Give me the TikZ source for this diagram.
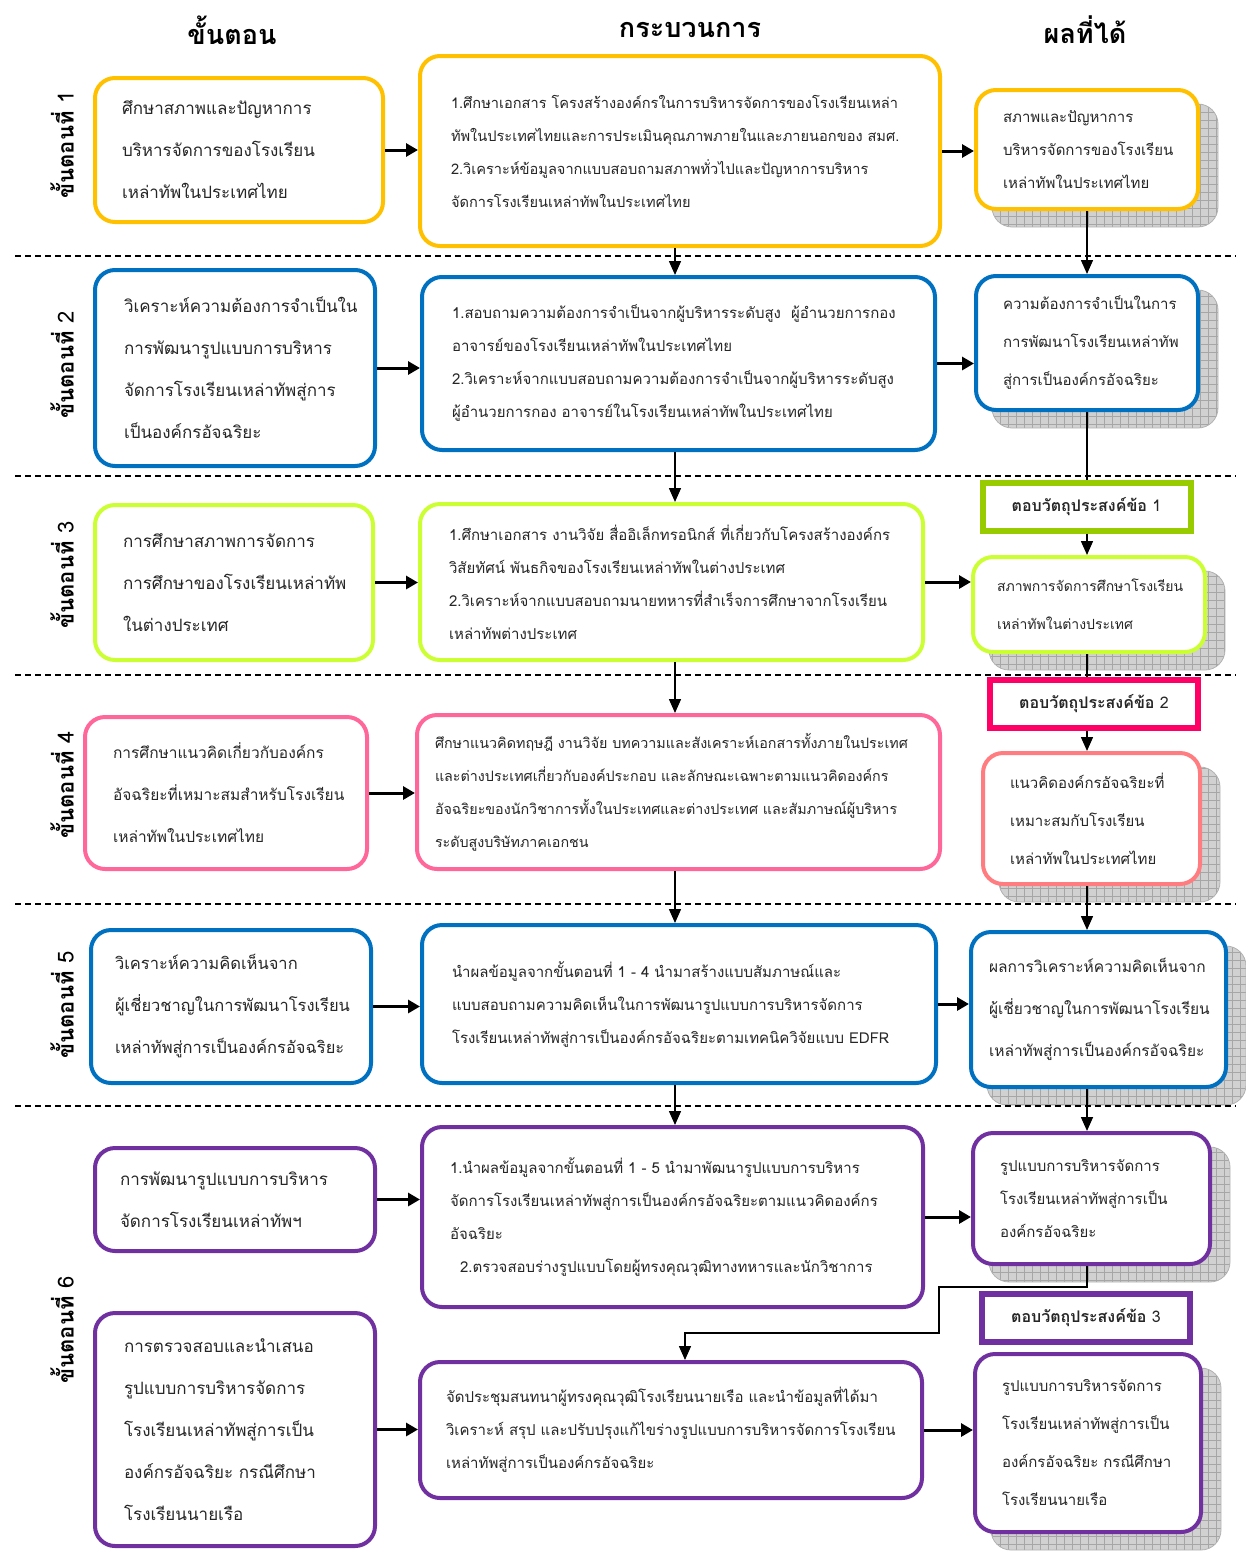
\documentclass[tikz,border=0pt]{standalone}
\usepackage{fontspec}
\setmainfont{Liberation Sans}
\newfontfamily\thai[Script=Thai]{Loma}
\usetikzlibrary{arrows.meta,backgrounds}

\definecolor{cOrange}{HTML}{FFC000}
\definecolor{cBlue}{HTML}{0070C0}
\definecolor{cLime}{HTML}{CCFF33}
\definecolor{cGreen}{HTML}{99CC00}
\definecolor{cPink}{HTML}{FF6699}
\definecolor{cMagenta}{HTML}{FF0066}
\definecolor{cSalmon}{HTML}{FF7C80}
\definecolor{cPurple}{HTML}{7030A0}

\tikzset{
  box/.style={draw, rounded corners=20pt, line width=4pt, fill=white, inner sep=0pt,
    align=left, text=black!85},
  ltext/.style={font=\thai\fontsize{#1}{42}\selectfont},
  ltext/.default=17,
  mtext/.style={font=\thai\fontsize{#1}{33}\selectfont},
  mtext/.default=15,
  rtext/.style 2 args={font=\thai\fontsize{#1}{#2}\selectfont},
  objbox/.style={draw, line width=6pt, fill=white, inner sep=0pt, text=black!85,
    minimum width=208pt, minimum height=48pt, font=\thai\bfseries\fontsize{16}{20}\selectfont},
  hdr/.style={font=\thai\bfseries\fontsize{27}{30}\selectfont},
  rowlab/.style={rotate=90, font=\thai\bfseries\fontsize{22}{24}\selectfont},
  sep/.style={line width=2pt, dash pattern=on 6pt off 4pt},
  harrow/.style={line width=3pt, -{Triangle[length=12pt,width=13pt]}},
  varrow/.style={line width=1.5pt, -{Triangle[length=14pt,width=12pt]}},
  vline/.style={line width=1.5pt},
  shadowbox/.style={fill=gray!36, draw=gray!60, line width=0.8pt, rounded corners=20pt,
    path picture={\draw[gray!70, line width=0.6pt, step=8pt]
      (path picture bounding box.south west) grid (path picture bounding box.north east);}}
}

\begin{document}
\begin{tikzpicture}[x=1pt, y=-1pt]
\useasboundingbox (0,0) rectangle (1246,1567);

% column headings
\node[hdr] (H1) at (232,30) {ขั้นตอน};
\node[hdr] (H2) at (690,30) {กระบวนการ};
\node[hdr] (H3) at (1085,30) {ผลที่ได้};

% row separators
\foreach \yy in {256,476,675,904,1106}
  \draw[sep] (15,\yy) -- (1236,\yy);

% row labels
\node[rowlab] (S1) at (62,145) {ขั้นตอนที่ {\mdseries 1}};
\node[rowlab] (S2) at (62,365) {ขั้นตอนที่ {\mdseries 2}};
\node[rowlab] (S3) at (62,575) {ขั้นตอนที่ {\mdseries 3}};
\node[rowlab] (S4) at (62,785) {ขั้นตอนที่ {\mdseries 4}};
\node[rowlab] (S5) at (62,1005) {ขั้นตอนที่ {\mdseries 5}};
\node[rowlab] (S6) at (62,1330) {ขั้นตอนที่ {\mdseries 6}};

% ---- step 1
\node[box, ltext, draw=cOrange, minimum width=288pt, minimum height=144pt, text width=234pt] (L1) at (239,150)
  {ศึกษาสภาพและปัญหาการ\\บริหารจัดการของโรงเรียน\\เหล่าทัพในประเทศไทย};
\node[box, mtext=14.6, draw=cOrange, minimum width=520pt, minimum height=190pt, text width=458pt] (M1) at (680,151)
  {1.ศึกษาเอกสาร โครงสร้างองค์กรในการบริหารจัดการของโรงเรียนเหล่า\\ทัพในประเทศไทยและการประเมินคุณภาพภายในและภายนอกของ~สมศ.\\2.วิเคราะห์ข้อมูลจากแบบสอบถามสภาพทั่วไปและปัญหาการบริหาร\\จัดการโรงเรียนเหล่าทัพในประเทศไทย};
\node[box, rtext={15}{33}, draw=cOrange, minimum width=222pt, minimum height=119pt, text width=168pt] (R1) at (1087,149.5)
  {สภาพและปัญหาการ\\บริหารจัดการของโรงเรียน\\เหล่าทัพในประเทศไทย};

% ---- step 2
\node[box, ltext, draw=cBlue, minimum width=280pt, minimum height=196pt, text width=222pt] (L2) at (235,368)
  {วิเคราะห์ความต้องการจำเป็นใน\\การพัฒนารูปแบบการบริหาร\\จัดการโรงเรียนเหล่าทัพสู่การ\\เป็นองค์กรอัจฉริยะ};
\node[box, mtext, draw=cBlue, minimum width=513pt, minimum height=173pt, text width=453pt] (M2) at (678.5,363.5)
  {1.สอบถามความต้องการจำเป็นจากผู้บริหารระดับสูง ~ผู้อำนวยการกอง\\อาจารย์ของโรงเรียนเหล่าทัพในประเทศไทย\\2.วิเคราะห์จากแบบสอบถามความต้องการจำเป็นจากผู้บริหารระดับสูง\\ผู้อำนวยการกอง อาจารย์ในโรงเรียนเหล่าทัพในประเทศไทย};
\node[box, rtext={15}{38}, draw=cBlue, minimum width=222pt, minimum height=134pt, text width=168pt] (R2) at (1087,343)
  {ความต้องการจำเป็นในการ\\การพัฒนาโรงเรียนเหล่าทัพ\\สู่การเป็นองค์กรอัจฉริยะ};

% ---- step 3
\node[objbox, draw=cGreen] (O1) at (1086.5,506.5) {ตอบวัตถุประสงค์ข้อ {\mdseries 1}};
\node[box, ltext, draw=cLime, minimum width=278pt, minimum height=155pt, text width=222pt] (L3) at (234,582.5)
  {การศึกษาสภาพการจัดการ\\การศึกษาของโรงเรียนเหล่าทัพ\\ในต่างประเทศ};
\node[box, mtext, draw=cLime, minimum width=503pt, minimum height=156pt, text width=445pt] (M3) at (671.5,582)
  {1.ศึกษาเอกสาร งานวิจัย สื่ออิเล็กทรอนิกส์ ที่เกี่ยวกับโครงสร้างองค์กร\\วิสัยทัศน์ พันธกิจของโรงเรียนเหล่าทัพในต่างประเทศ\\2.วิเคราะห์จากแบบสอบถามนายทหารที่สำเร็จการศึกษาจากโรงเรียน\\เหล่าทัพต่างประเทศ};
\node[box, rtext={14}{38}, draw=cLime, minimum width=232pt, minimum height=95pt, text width=184pt] (R3) at (1089,604.5)
  {สภาพการจัดการศึกษาโรงเรียน\\เหล่าทัพในต่างประเทศ};

% ---- step 4
\node[objbox, draw=cMagenta] (O2) at (1094,704) {ตอบวัตถุประสงค์ข้อ {\mdseries 2}};
\node[box, ltext=15.5, draw=cPink, minimum width=282pt, minimum height=152pt, text width=226pt] (L4) at (226,793)
  {การศึกษาแนวคิดเกี่ยวกับองค์กร\\อัจฉริยะที่เหมาะสมสำหรับโรงเรียน\\เหล่าทัพในประเทศไทย};
\node[box, mtext=14.3, draw=cPink, minimum width=523pt, minimum height=154pt, text width=487pt] (M4) at (678.5,792)
  {ศึกษาแนวคิดทฤษฎี งานวิจัย บทความและสังเคราะห์เอกสารทั้งภายในประเทศ\\และต่างประเทศเกี่ยวกับองค์ประกอบ และลักษณะเฉพาะตามแนวคิดองค์กร\\อัจฉริยะของนักวิชาการทั้งในประเทศและต่างประเทศ และสัมภาษณ์ผู้บริหาร\\ระดับสูงบริษัทภาคเอกชน};
\node[box, rtext={15}{38}, draw=cSalmon, minimum width=217pt, minimum height=131pt, text width=163pt] (R4) at (1091.5,818.5)
  {แนวคิดองค์กรอัจฉริยะที่\\เหมาะสมกับโรงเรียน\\เหล่าทัพในประเทศไทย};

% ---- step 5
\node[box, ltext=16.5, draw=cBlue, minimum width=280pt, minimum height=153pt, text width=232pt] (L5) at (231,1006.5)
  {วิเคราะห์ความคิดเห็นจาก\\ผู้เชี่ยวชาญในการพัฒนาโรงเรียน\\เหล่าทัพสู่การเป็นองค์กรอัจฉริยะ};
\node[box, mtext, draw=cBlue, minimum width=514pt, minimum height=158pt, text width=454pt] (M5) at (679,1004)
  {นำผลข้อมูลจากขั้นตอนที่ 1 - 4 นำมาสร้างแบบสัมภาษณ์และ\\แบบสอบถามความคิดเห็นในการพัฒนารูปแบบการบริหารจัดการ\\โรงเรียนเหล่าทัพสู่การเป็นองค์กรอัจฉริยะตามเทคนิควิจัยแบบ EDFR};
\node[box, rtext={15.5}{42}, draw=cBlue, minimum width=255pt, minimum height=155pt, text width=219pt] (R5) at (1098.5,1009.5)
  {ผลการวิเคราะห์ความคิดเห็นจาก\\ผู้เชี่ยวชาญในการพัฒนาโรงเรียน\\เหล่าทัพสู่การเป็นองค์กรอัจฉริยะ};

% ---- step 6
\node[box, ltext, draw=cPurple, minimum width=280pt, minimum height=103pt, text width=230pt] (L6) at (235,1199.5)
  {การพัฒนารูปแบบการบริหาร\\จัดการโรงเรียนเหล่าทัพฯ};
\node[box, mtext, draw=cPurple, minimum width=501pt, minimum height=180pt, text width=445pt] (M6) at (672.5,1217)
  {1.นำผลข้อมูลจากขั้นตอนที่ 1 - 5 นำมาพัฒนารูปแบบการบริหาร\\จัดการโรงเรียนเหล่าทัพสู่การเป็นองค์กรอัจฉริยะตามแนวคิดองค์กร\\อัจฉริยะ\\\hspace*{10pt}2.ตรวจสอบร่างรูปแบบโดยผู้ทรงคุณวุฒิทางทหารและนักวิชาการ};
\node[box, rtext={15}{33}, draw=cPurple, minimum width=237pt, minimum height=131pt, text width=183pt] (R6) at (1091.5,1198.5)
  {รูปแบบการบริหารจัดการ\\โรงเรียนเหล่าทัพสู่การเป็น\\องค์กรอัจฉริยะ};

\node[objbox, draw=cPurple] (O3) at (1086,1318) {ตอบวัตถุประสงค์ข้อ {\mdseries 3}};
\node[box, ltext, draw=cPurple, minimum width=280pt, minimum height=233pt, text width=222pt] (L7) at (235,1429.5)
  {การตรวจสอบและนำเสนอ\\รูปแบบการบริหารจัดการ\\โรงเรียนเหล่าทัพสู่การเป็น\\องค์กรอัจฉริยะ กรณีศึกษา\\โรงเรียนนายเรือ};
\node[box, mtext, draw=cPurple, minimum width=502pt, minimum height=136pt, text width=450pt] (M7) at (671,1430)
  {จัดประชุมสนทนาผู้ทรงคุณวุฒิโรงเรียนนายเรือ และนำข้อมูลที่ได้มา\\วิเคราะห์ สรุป และปรับปรุงแก้ไขร่างรูปแบบการบริหารจัดการโรงเรียน\\เหล่าทัพสู่การเป็นองค์กรอัจฉริยะ};
\node[box, rtext={15}{38}, draw=cPurple, minimum width=226pt, minimum height=178pt, text width=172pt] (R7) at (1088,1443)
  {รูปแบบการบริหารจัดการ\\โรงเรียนเหล่าทัพสู่การเป็น\\องค์กรอัจฉริยะ กรณีศึกษา\\โรงเรียนนายเรือ};

% shadows behind the result boxes
\begin{scope}[on background layer]
  \foreach \n in {R1,R2,R3,R4,R5,R6,R7}
    \path[shadowbox] ([shift={(18,16)}]\n.south west) rectangle ([shift={(18,16)}]\n.north east);
\end{scope}

% column guides for vertical connectors
\coordinate (mx) at (675,0);
\coordinate (rx) at (1087,0);

% horizontal arrows
\foreach \a/\b in {L1/M1,L2/M2,L3/M3,L4/M4,L5/M5,L6/M6,L7/M7}
  \draw[harrow] (\a.east) -- (\a.east -| \b.west);
\foreach \a/\b in {M1/R1,M2/R2,M3/R3,M5/R5,M6/R6,M7/R7}
  \draw[harrow] (\a.east) -- (\a.east -| \b.west);

% process column
\foreach \a/\b in {M1/M2,M2/M3,M3/M4,M4/M5,M5/M6}
  \draw[varrow] (\a.south -| mx) -- (\b.north -| mx);

% result column
\draw[varrow] (R1.south -| rx) -- (R2.north -| rx);
\draw[vline] (R2.south -| rx) -- (O1.north -| rx);
\draw[varrow] (O1.south -| rx) -- (R3.north -| rx);
\draw[vline] (R3.south -| rx) -- (O2.north -| rx);
\draw[varrow] (O2.south -| rx) -- (R4.north -| rx);
\draw[varrow] (R4.south -| rx) -- (R5.north -| rx);
\draw[varrow] (R5.south -| rx) -- (R6.north -| rx);

% feedback into the last process
\coordinate (k1) at (939,1287);
\coordinate (k2) at (685,1333);
\draw[varrow] (R6.south -| rx) |- (k1) |- (k2) -- (k2 |- M7.north);

\end{tikzpicture}
\end{document}
